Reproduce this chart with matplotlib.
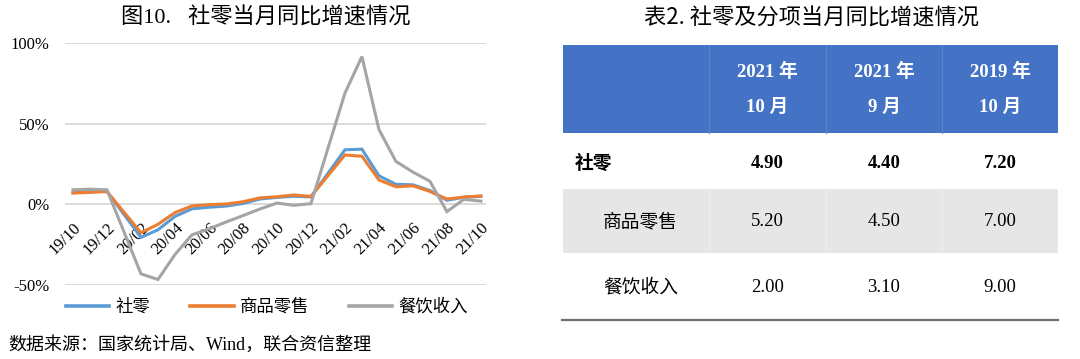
import numpy as np
import matplotlib
matplotlib.use("Agg")
import matplotlib.pyplot as plt
from matplotlib.patches import Rectangle
from matplotlib.lines import Line2D

# chart data (%), None = month not published (Jan merged into Feb)
months = ['19/10', '19/11', '19/12', '20/01', '20/02', '20/03', '20/04', '20/05',
          '20/06', '20/07', '20/08', '20/09', '20/10', '20/11', '20/12', '21/01',
          '21/02', '21/03', '21/04', '21/05', '21/06', '21/07', '21/08', '21/09', '21/10']
retail = [7.2, 8.0, 8.0, None, -20.5, -15.8, -7.5, -2.8, -1.8, -1.1, 0.5, 3.3, 4.3,
          5.0, 4.6, None, 33.8, 34.2, 17.7, 12.4, 12.1, 8.5, 2.5, 4.4, 4.9]
goods = [7.0, 7.4, 7.9, None, -17.6, -12.4, -5.1, -1.0, -0.2, 0.2, 1.6, 4.0, 4.7,
         5.8, 4.9, None, 30.6, 29.8, 15.1, 10.9, 11.5, 8.0, 3.3, 4.5, 5.2]
catering = [9.0, 9.4, 9.0, None, -43.1, -46.6, -31.1, -18.9, -15.2, -11.0, -7.0, -2.9, 0.8,
            -0.6, 0.4, None, 68.9, 91.6, 46.4, 26.6, 20.0, 14.3, -4.5, 3.1, 2.0]
series_names = ['社零', '商品零售', '餐饮收入']
series_colors = ['#5B9BD5', '#ED7D31', '#A5A5A5']
yticks = [-50, 0, 50, 100]

# table data
col_year = ['2021 年', '2021 年', '2019 年']
col_month = ['10 月', '9 月', '10 月']
row_names = ['社零', '商品零售', '餐饮收入']
tab_retail = [4.90, 4.40, 7.20]
tab_goods = [5.20, 4.50, 7.00]
tab_catering = [2.00, 3.10, 9.00]

CJK = 'Noto Sans CJK SC'
MIX = ['Liberation Serif', 'Noto Sans CJK SC']
W, H = 1080, 359

fig = plt.figure(figsize=(W / 100, H / 100), dpi=100)

# ---------------- line chart ----------------
ax = fig.add_axes([65 / W, 1 - 285 / H, (486 - 65) / W, (285 - 43) / H])
for vals, name, col in zip([retail, goods, catering], series_names, series_colors):
    x = [i for i, v in enumerate(vals) if v is not None]
    y = [v for v in vals if v is not None]
    ax.plot(x, y, color=col, lw=2.2, label=name, solid_joinstyle='miter')

ax.set_xlim(-0.47, 24.3)
ax.set_ylim(-50, 100)
ax.set_yticks(yticks)
ax.set_yticklabels([f'{t}%' for t in yticks], family='Liberation Serif', fontsize=12)
ax.yaxis.grid(True, color='#D9D9D9', lw=1.3)
ax.set_axisbelow(True)
ax.tick_params(axis='y', length=0, pad=11)

ax.spines['bottom'].set_position(('data', 0))
for s in ax.spines.values():
    s.set_visible(False)
ax.set_xticks(range(0, len(months), 2))
ax.set_xticklabels(months[::2], rotation=45, ha='right', rotation_mode='anchor',
                   family='Liberation Serif', fontsize=12)
ax.tick_params(axis='x', length=0, pad=11)

fig.text(266 / W, 1 - 18 / H, '图10.   社零当月同比增速情况', ha='center', va='center',
         family=MIX, fontsize=16)

handles = [Line2D([], [], color=c, lw=2.6) for c in series_colors]
fig.legend(handles, series_names, loc='center', bbox_to_anchor=(267 / W, 1 - 307 / H),
           ncol=3, frameon=False, handlelength=2.5, handletextpad=0.35, columnspacing=2.3,
           prop={'family': CJK, 'size': 12.5})

fig.text(8 / W, 1 - 345 / H, '数据来源：国家统计局、Wind，联合资信整理', ha='left', va='center',
         family=MIX, fontsize=13)

# ---------------- table ----------------
tab = fig.add_axes([0, 0, 1, 1])
tab.set_xlim(0, W)
tab.set_ylim(H, 0)
tab.axis('off')
tab.patch.set_visible(False)

edges = [563, 709, 826, 942, 1058]
centers = [(edges[i] + edges[i + 1]) / 2 for i in range(1, 4)]

tab.add_patch(Rectangle((edges[0], 45), edges[-1] - edges[0], 88, color='#4472C4', lw=0))
tab.add_patch(Rectangle((edges[0], 189), edges[-1] - edges[0], 64, color='#E7E6E6', lw=0))
for e in edges[1:4]:
    tab.plot([e, e], [45, 133], color='#5A83CC', lw=0.8)
    tab.plot([e, e], [189, 253], color='#EEEEEE', lw=0.8)
tab.plot([edges[0] - 1, edges[-1]], [320, 320], color='#707070', lw=1.6)

for cx, yr, mo in zip(centers, col_year, col_month):
    tab.text(cx, 72, yr, ha='center', va='center', color='white', weight='bold',
             family=MIX, fontsize=13.5)
    tab.text(cx, 107, mo, ha='center', va='center', color='white', weight='bold',
             family=MIX, fontsize=13.5)

row_y = [163, 222, 287]
row_x = [575, 603, 603]
for r, (vals, name) in enumerate(zip([tab_retail, tab_goods, tab_catering], row_names)):
    wt = 'bold' if r == 0 else 'normal'
    tab.text(row_x[r], row_y[r], name, ha='left', va='center', family=CJK,
             weight=wt, fontsize=13.5)
    for cx, v in zip(centers, vals):
        tab.text(cx, row_y[r], f'{v:.2f}', ha='center', va='center',
                 family='Liberation Serif', weight=wt, fontsize=13.5)

fig.text(812 / W, 1 - 18 / H, '表2. 社零及分项当月同比增速情况', ha='center', va='center',
         family=CJK, fontsize=16)

fig.savefig('out.png', dpi=100)
